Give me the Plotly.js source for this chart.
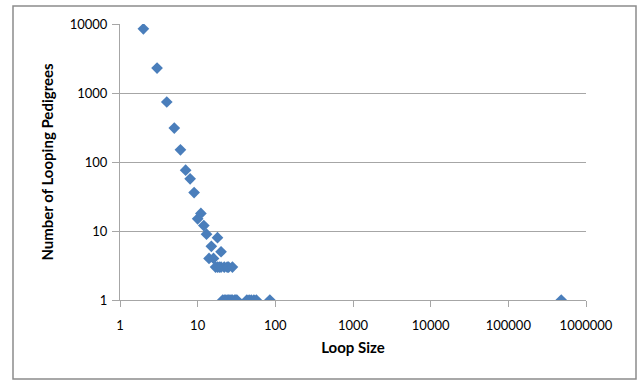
<!DOCTYPE html>
<html>
<head>
<meta charset="utf-8">
<script src="https://cdn.plot.ly/plotly-3.0.1.min.js"></script>
<style>html,body{margin:0;padding:0;background:#fff;}#chart{width:643px;height:381px;}</style>
</head>
<body>
<div id="chart"></div>
<script>
// Loop size (x) and number of looping pedigrees (y)
const loopSize = [2, 3, 4, 5, 6, 7, 8, 9, 10, 11, 12, 13, 14, 16, 15, 18, 20,
  17, 18, 19, 20, 22, 24, 25, 28,
  21, 22, 23, 24, 25, 26, 27, 28, 30, 31, 32, 43, 46, 49, 53, 57, 85, 480000];
const pedigrees = [8500, 2300, 740, 310, 150, 76, 57, 36, 15, 18, 12, 9, 4, 4, 6, 8, 5,
  3, 3, 3, 3, 3, 3, 3, 3,
  1, 1, 1, 1, 1, 1, 1, 1, 1, 1, 1, 1, 1, 1, 1, 1, 1, 1];
const xTickVals = [1, 10, 100, 1000, 10000, 100000, 1000000];
const xTickText = ["1", "10", "100", "1000", "10000", "100000", "1000000"];
const yTickVals = [1, 10, 100, 1000, 10000];
const yTickText = ["1", "10", "100", "1000", "10000"];

const gridColor = "#a6a6a6";
const trace = {
  x: loopSize, y: pedigrees, type: "scatter", mode: "markers",
  marker: {symbol: "diamond", size: 9, color: "#4a7ebb"},
  hoverinfo: "x+y"
};
const layout = {
  width: 643, height: 381,
  margin: {l: 120, r: 57, t: 24, b: 81},
  paper_bgcolor: "#fff", plot_bgcolor: "#fff",
  showlegend: false,
  font: {family: "Lato, 'Open Sans', sans-serif", size: 13, color: "#000"},
  xaxis: {
    type: "log", range: [0, 6], tickmode: "array", tickvals: xTickVals, ticktext: xTickText,
    showgrid: false, zeroline: false, showline: true, linecolor: gridColor, linewidth: 1,
    ticks: "outside", ticklen: 6, tickcolor: gridColor, tickwidth: 1,
    ticklabelstandoff: 7,
    title: {text: "<b>Loop Size</b>", font: {size: 15}, standoff: 10}
  },
  yaxis: {
    type: "log", range: [0, 4], tickmode: "array", tickvals: yTickVals, ticktext: yTickText,
    showgrid: true, gridcolor: gridColor, gridwidth: 1, zeroline: false,
    showline: true, linecolor: gridColor, linewidth: 1,
    ticks: "outside", ticklen: 7, tickcolor: gridColor, tickwidth: 1,
    ticklabelstandoff: 2,
    title: {text: "<b>Number of Looping Pedigrees</b>", font: {size: 15}, standoff: 12}
  },
  shapes: [{
    type: "rect", xref: "paper", yref: "paper",
    x0: (13 - 120) / 466, x1: (636 - 120) / 466,
    y0: (300 - 379) / 276, y1: (300 - 6) / 276,
    line: {color: "#8c8c8c", width: 1.5}, fillcolor: "rgba(0,0,0,0)", layer: "below"
  }]
};
Plotly.newPlot("chart", [trace], layout, {staticPlot: true, displayModeBar: false});
</script>
</body>
</html>
